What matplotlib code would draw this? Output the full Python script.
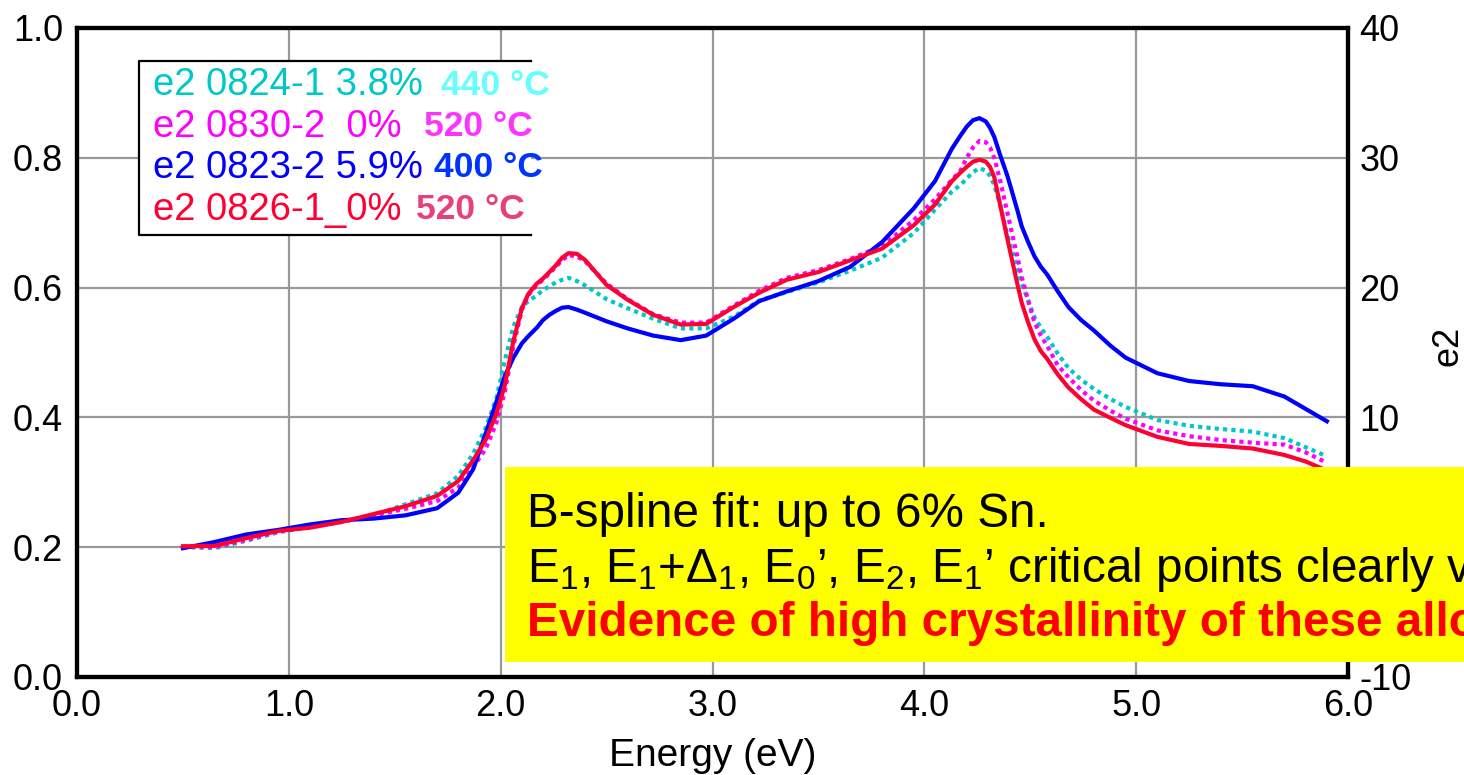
import matplotlib
matplotlib.use("Agg")
import matplotlib.pyplot as plt
from matplotlib.patches import Rectangle
from matplotlib.lines import Line2D
from matplotlib.ticker import FormatStrFormatter

plt.rcParams['font.family'] = ['Liberation Sans', 'DejaVu Sans']
plt.rcParams['axes.unicode_minus'] = False
plt.rcParams['mathtext.fontset'] = 'custom'
plt.rcParams['mathtext.rm'] = 'Liberation Sans'
plt.rcParams['mathtext.it'] = 'Liberation Sans'

# photon energy (eV), shared by all four spectra
energy = [0.5, 0.65, 0.8, 0.95, 1.1, 1.25, 1.4, 1.55, 1.7, 1.8, 1.87, 1.93, 1.98,
          2.02, 2.06, 2.1, 2.13, 2.17, 2.2, 2.23, 2.26, 2.29, 2.32, 2.36, 2.4, 2.5,
          2.6, 2.72, 2.85, 2.97, 3.1, 3.22, 3.35, 3.5, 3.65, 3.8, 3.95, 4.05, 4.13,
          4.17, 4.2, 4.23, 4.26, 4.29, 4.31, 4.33, 4.36, 4.39, 4.41, 4.44, 4.46, 4.49,
          4.52, 4.55, 4.58, 4.63, 4.68, 4.74, 4.8, 4.88, 4.95, 5.1, 5.25, 5.4, 5.55,
          5.7, 5.8, 5.9]

# e2 values
e2_0824 = [0.0, -0.08, 0.5, 1.15, 1.55, 1.95, 2.46, 3.3, 4.15, 5.5, 7.2, 9.2, 11.5,
           14.4, 17.0, 18.5, 18.95, 19.4, 19.8, 20.1, 20.4, 20.6, 20.75, 20.5, 20.15, 19.1,
           18.4, 17.6, 16.85, 16.85, 17.75, 19.0, 19.65, 20.4, 21.3, 22.3, 24.2, 26.0, 27.4,
           27.9, 28.4, 28.9, 29.2, 29.0, 28.6, 27.9, 26.2, 24.2, 23.0, 21.4, 20.3, 19.0,
           17.7, 16.9, 16.2, 14.9, 13.8, 12.9, 12.2, 11.4, 10.8, 9.8, 9.35, 9.1, 8.9,
           8.4, 7.7, 7.0]
e2_0830 = [0.05, 0.0, 0.55, 1.2, 1.6, 1.95, 2.45, 2.95, 3.55, 4.6, 6.16, 7.6, 9.6,
           12.0, 15.5, 18.3, 19.4, 20.2, 20.6, 21.1, 21.6, 22.1, 22.5, 22.4, 22.0, 20.3,
           19.1, 17.95, 17.3, 17.3, 18.6, 19.75, 20.75, 21.35, 22.2, 23.2, 25.2, 26.8, 28.3,
           29.0, 30.0, 30.8, 31.3, 31.2, 30.8, 30.0, 28.1, 25.9, 24.45, 22.3, 20.8, 19.0,
           17.3, 16.3, 15.5, 14.0, 13.1, 12.1, 11.3, 10.5, 9.9, 9.0, 8.55, 8.25, 8.05,
           7.9, 7.3, 6.5]
e2_0823 = [-0.08, 0.4, 0.98, 1.33, 1.75, 2.08, 2.2, 2.45, 3.0, 4.2, 6.0, 8.8, 11.2,
           13.2, 14.6, 15.7, 16.25, 16.9, 17.5, 17.9, 18.2, 18.45, 18.5, 18.3, 18.05, 17.4,
           16.85, 16.3, 15.95, 16.3, 17.6, 18.95, 19.7, 20.5, 21.6, 23.5, 26.1, 28.2, 30.7,
           31.7, 32.4, 32.9, 33.05, 32.8, 32.3, 31.6, 30.1, 28.7, 27.6, 25.9, 24.7, 23.5,
           22.4, 21.6, 21.0, 19.7, 18.5, 17.5, 16.7, 15.5, 14.6, 13.4, 12.8, 12.55, 12.4,
           11.6, 10.65, 9.7]
e2_0826 = [0.07, 0.1, 0.7, 1.25, 1.5, 1.95, 2.55, 3.15, 3.95, 5.1, 6.7, 8.3, 10.3,
           12.5, 15.9, 18.4, 19.5, 20.3, 20.7, 21.2, 21.7, 22.3, 22.65, 22.6, 22.1, 20.2,
           19.05, 17.9, 17.15, 17.2, 18.5, 19.6, 20.6, 21.2, 22.1, 23.0, 24.8, 26.4, 28.2,
           28.85, 29.3, 29.7, 29.85, 29.7, 29.3, 28.5, 26.2, 23.9, 22.4, 20.2, 18.8, 17.3,
           16.0, 15.1, 14.5, 13.3, 12.3, 11.4, 10.6, 9.95, 9.4, 8.5, 7.95, 7.8, 7.6,
           7.1, 6.6, 5.9]

sample_labels = ["e2 0824-1 3.8%", "e2 0830-2  0%", "e2 0823-2 5.9%", "e2 0826-1_0%"]
temp_labels = ["440 °C", "520 °C", "400 °C", "520 °C"]
label_colors = ["#00C8C8", "#FF00FF", "#0000FF", "#FF0033"]
temp_colors = ["#66FFFF", "#FF33FF", "#0033FF", "#E8407A"]

fig = plt.figure(figsize=(14.64, 7.75), dpi=100)
ax = fig.add_axes([0.0526, 0.1265, 0.8682, 0.8374])
ax2 = ax.twinx()

# left axis (normalised) with the grid
ax.set_xlim(0, 6)
ax.set_ylim(0, 1)
ax.set_xticks([0, 1, 2, 3, 4, 5, 6])
ax.set_yticks([0, 0.2, 0.4, 0.6, 0.8, 1.0])
ax.xaxis.set_major_formatter(FormatStrFormatter('%.1f'))
ax.yaxis.set_major_formatter(FormatStrFormatter('%.1f'))
ax.tick_params(axis='both', length=0, labelsize=26)
ax.tick_params(axis='y', pad=10)
ax.tick_params(axis='x', pad=9)
ax.grid(True, color='#999999', linewidth=1.6)
ax.set_axisbelow(True)
ax.set_xlabel('Energy (eV)', fontsize=28)
ax.xaxis.set_label_coords(0.5, -0.094)

# right axis carries the e2 curves
ax2.set_ylim(-10, 40)
ax2.set_yticks([-10, 0, 10, 20, 30, 40])
ax2.tick_params(axis='y', length=0, labelsize=26, pad=8)
ax2.set_ylabel('e2', fontsize=26, ha='center', va='center')
ax2.yaxis.set_label_coords(1.079, 0.51)

for a in (ax, ax2):
    for s in a.spines.values():
        s.set_linewidth(3)
        s.set_color('black')

ax2.plot(energy, e2_0824, color=label_colors[0], lw=3, linestyle=(0, (1, 1)),
         dash_capstyle='butt')
ax2.plot(energy, e2_0830, color=label_colors[1], lw=3, linestyle=(0, (1, 1)),
         dash_capstyle='butt')
ax2.plot(energy, e2_0823, color=label_colors[2], lw=3, solid_joinstyle='round')
ax2.plot(energy, e2_0826, color=label_colors[3], lw=3, solid_joinstyle='round')

# legend box drawn by hand (two colours per entry)
ax.add_patch(Rectangle((0.0489, 0.681), 0.308, 0.268, transform=ax.transAxes,
                       facecolor='white', edgecolor='none', zorder=2))
bx = [0.357, 0.0489, 0.0489, 0.357]
by = [0.949, 0.949, 0.681, 0.681]
ax.add_line(Line2D(bx, by, transform=ax.transAxes, color='black', lw=1.6, zorder=3))
row_y = [0.912, 0.848, 0.785, 0.720]
temp_x = [0.286, 0.273, 0.281, 0.267]
for i in range(4):
    ax.text(0.060, row_y[i], sample_labels[i], transform=ax.transAxes, fontsize=27.5,
            color=label_colors[i], va='center', zorder=4)
    ax.text(temp_x[i], row_y[i], temp_labels[i], transform=ax.transAxes, fontsize=25.5,
            fontweight='bold', color=temp_colors[i], va='center', zorder=4)

# yellow annotation box, running off the right edge
fig.add_artist(Rectangle((0.345, 0.146), 0.7, 0.251, transform=fig.transFigure,
                         facecolor='#FFFF00', edgecolor='none', zorder=10))
fig.text(0.36, 0.3200, 'B-spline fit: up to 6% Sn.', fontsize=34.3,
         va='baseline', zorder=11)
fig.text(0.36, 0.2490,
         r"E$_1$, E$_1$+$\Delta_1$, E$_0$’, E$_2$, E$_1$’ critical points clearly visible.",
         fontsize=34.3, va='baseline', zorder=11)
fig.text(0.36, 0.1795, 'Evidence of high crystallinity of these alloys.', fontsize=34.3,
         fontweight='bold', color='#FF0000', va='baseline', zorder=11)

fig.savefig('out.png', dpi=100)
